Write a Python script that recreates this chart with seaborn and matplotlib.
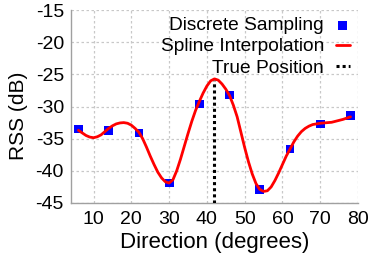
import matplotlib
matplotlib.use('Agg')
import matplotlib.pyplot as plt
import seaborn as sns
import pandas as pd

# discrete samples (degrees, dB)
sample_dir = [6, 14, 22, 30, 38, 46, 54, 62, 70, 78]
sample_rss = [-33.5, -33.7, -34.1, -41.9, -29.6, -28.2, -42.9, -36.6, -32.7, -31.4]

# spline curve, values every degree
spline_dir = [6, 7, 8, 9, 10, 11, 12, 13, 14, 15, 16, 17, 18, 19, 20, 21, 22, 23, 24, 25,
              26, 27, 28, 29, 30, 31, 32, 33, 34, 35, 36, 37, 38, 39, 40, 41, 42, 43, 44,
              45, 46, 47, 48, 49, 50, 51, 52, 53, 54, 55, 56, 57, 58, 59, 60, 61, 62, 63,
              64, 65, 66, 67, 68, 69, 70, 71, 72, 73, 74, 75, 76, 77, 78]
spline_rss = [-33.7, -34.1, -34.5, -34.75, -34.85, -34.7, -34.4, -33.9, -33.4, -33.0,
              -32.7, -32.55, -32.5, -32.6, -32.9, -33.4, -34.0, -35.0, -36.3, -37.7,
              -39.0, -40.2, -41.1, -41.7, -41.9, -41.4, -40.0, -38.2, -36.2, -34.2,
              -32.3, -30.6, -29.2, -27.9, -26.8, -26.0, -25.7, -25.9, -26.5,
              -27.3, -28.3, -29.8, -31.6, -34.0, -36.4, -38.6, -40.5, -42.0, -42.9,
              -43.2, -43.1, -42.5, -41.5, -40.3, -39.0, -37.7, -36.6, -35.5,
              -34.6, -33.9, -33.4, -33.05, -32.8, -32.7, -32.6, -32.55, -32.5, -32.45,
              -32.3, -32.15, -32.0, -31.8, -31.6]

true_dir = 42
true_rss = -25.8

x_ticks = [10, 20, 30, 40, 50, 60, 70, 80]
y_ticks = [-45, -40, -35, -30, -25, -20, -15]

samples = pd.DataFrame({'dir': sample_dir, 'rss': sample_rss})
spline = pd.DataFrame({'dir': spline_dir, 'rss': spline_rss})

sns.set_theme(style='white')
plt.rcParams['font.family'] = ['Liberation Sans', 'DejaVu Sans']
plt.rcParams['axes.unicode_minus'] = False
plt.rcParams['text.color'] = 'black'
plt.rcParams['axes.labelcolor'] = 'black'

fig = plt.figure(figsize=(3.73, 2.65), dpi=100)
ax = fig.add_axes([0.190, 0.234, 0.770, 0.728])

grey = '#a0a0a0'
ax.grid(True, color='#c8c8c8', linestyle=(0, (2, 2)), linewidth=0.9)

sns.scatterplot(data=samples, x='dir', y='rss', marker='s', s=40, color='#0000ff',
                edgecolor='none', label='Discrete Sampling', ax=ax, zorder=3)
ax.vlines(true_dir, -45, true_rss, colors='black', linestyles=(0, (1, 1)),
          linewidth=2.2, label='True Position', zorder=3)
sns.lineplot(data=spline, x='dir', y='rss', color='#ff0000', linewidth=2.0,
             label='Spline Interpolation', ax=ax, zorder=4, sort=True)

ax.set_xlim(4, 80)
ax.set_ylim(-45, -15)
ax.set_xticks(x_ticks)
ax.set_yticks(y_ticks)
ax.tick_params(direction='in', length=4, width=0.8, color=grey, labelsize=14,
               labelcolor='black')
ax.tick_params(axis='x', pad=6)
ax.tick_params(axis='y', pad=5)

for side in ['top', 'right']:
    ax.spines[side].set_visible(False)
for side in ['left', 'bottom']:
    ax.spines[side].set_color(grey)
    ax.spines[side].set_linewidth(1.0)

ax.set_xlabel('Direction (degrees)', fontsize=16, labelpad=3, color='black')
ax.set_ylabel('RSS (dB)', fontsize=15, color='black')
ax.yaxis.set_label_coords(-0.15, 0.45)

handles, labels = ax.get_legend_handles_labels()
order = [labels.index(n) for n in ['Discrete Sampling', 'Spline Interpolation', 'True Position']]
leg = ax.legend([handles[i] for i in order], [labels[i] for i in order],
                loc='upper right', bbox_to_anchor=(0.985, 0.985), frameon=False,
                markerfirst=False, fontsize=13.8, handlelength=0.75, handletextpad=0.6,
                labelspacing=0.2, borderpad=0.2, borderaxespad=0)
for t in leg.get_texts():
    t.set_color('black')

fig.savefig('out.png', dpi=100)
